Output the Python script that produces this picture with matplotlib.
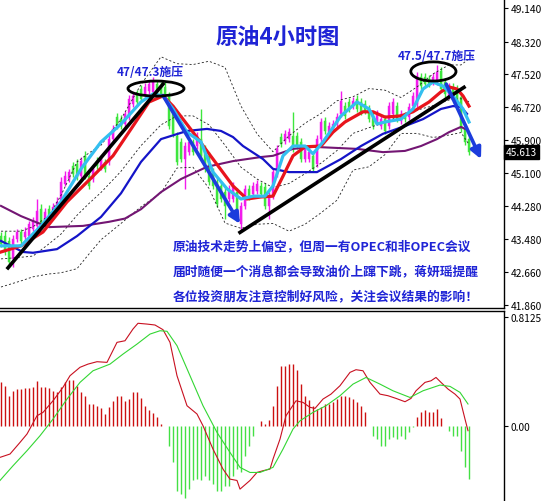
import matplotlib
matplotlib.use("Agg")
import matplotlib.pyplot as plt
from matplotlib.patches import Ellipse, Rectangle
import numpy as np

plt.rcParams['font.family'] = ['Noto Sans CJK SC', 'DejaVu Sans']

# ---------------- candle data (4H crude oil) ----------------
open_ = [43.55,43.55,43.43,42.99,43.48,43.65,43.53,43.55,43.72,43.80,
         44.21,43.90,44.21,44.04,44.17,44.39,44.83,44.95,45.27,45.32,
         45.02,45.52,45.02,44.95,45.39,45.25,45.37,45.37,45.93,46.47,
         46.42,46.30,46.47,46.79,47.04,47.16,47.04,47.11,47.09,47.28,
         47.23,47.21,46.99,46.67,46.01,45.86,45.44,45.61,45.86,45.76,
         45.93,45.69,45.52,45.12,44.88,44.78,44.63,44.46,44.46,44.63,
         43.85,44.29,44.71,44.58,44.66,44.78,44.75,44.29,44.53,45.07,
         45.98,45.88,45.93,46.01,46.01,45.86,45.44,45.44,45.52,45.32,
         45.93,46.37,46.10,46.18,46.30,46.55,46.74,46.84,46.74,46.91,
         46.84,46.79,46.67,46.50,46.35,46.25,46.42,46.25,46.55,46.74,
         46.37,46.50,46.47,46.74,46.79,47.45,47.45,47.40,47.33,47.33,
         47.60,47.33,46.99,47.21,47.16,46.96,46.18,45.93]
high_ = [43.65,43.67,43.53,43.58,43.72,43.72,43.77,43.92,44.02,44.46,
         44.34,44.24,44.31,44.36,44.51,45.00,45.15,45.20,45.37,45.44,
         45.49,45.64,45.15,45.29,45.49,45.54,45.44,46.03,46.28,46.57,
         46.52,46.62,47.01,47.09,47.13,47.26,47.31,47.38,47.45,47.38,
         47.33,47.33,47.09,46.77,46.10,45.96,45.86,45.96,45.93,46.10,
         46.67,45.79,45.61,45.22,44.98,44.88,44.73,44.80,44.88,44.73,
         44.39,44.80,44.80,44.88,44.93,44.88,44.85,44.63,45.22,45.79,
         46.08,46.15,46.20,46.60,46.10,45.96,45.79,45.71,45.61,46.03,
         46.45,46.47,46.35,46.40,46.57,47.11,46.84,46.94,46.96,47.01,
         46.94,46.89,46.77,46.60,46.64,46.52,46.52,46.84,46.94,46.84,
         46.64,46.60,46.82,47.09,47.58,47.55,47.55,47.50,47.55,47.75,
         47.70,47.43,47.31,47.31,47.26,47.06,46.28,46.03]
low_ = [43.28,43.09,42.84,42.79,43.40,43.33,43.45,43.48,43.67,43.75,
        43.72,43.82,43.94,43.97,44.12,44.34,44.78,44.88,45.00,44.93,
        44.95,44.95,44.71,44.88,45.20,45.17,45.12,45.29,45.86,46.18,
        46.18,46.23,46.40,46.72,46.77,46.84,46.96,47.04,47.01,47.01,
        46.96,46.89,46.18,45.98,45.29,45.37,44.71,45.54,45.54,45.69,
        45.44,45.12,44.80,44.71,44.26,44.39,43.97,44.39,44.39,44.14,
        43.67,44.21,44.44,44.51,44.58,44.51,44.21,43.97,44.46,45.00,
        45.74,45.81,45.86,45.61,45.69,45.37,45.37,45.37,45.12,45.25,
        45.86,46.06,46.03,46.10,46.23,46.47,46.42,46.60,46.67,46.60,
        46.52,46.55,46.35,46.18,46.28,46.18,46.06,46.18,46.47,46.35,
        46.30,46.35,46.40,46.67,46.72,47.16,47.21,47.21,47.26,47.26,
        47.09,46.96,46.91,46.91,46.72,46.10,45.79,45.54]
close_ = [43.36,43.16,42.91,43.48,43.65,43.43,43.65,43.85,43.92,44.17,
          43.80,44.14,44.02,44.26,44.39,44.88,45.02,45.12,45.07,45.00,
          45.39,45.02,44.78,45.20,45.27,45.44,45.20,45.93,46.18,46.25,
          46.25,46.55,46.91,46.99,46.84,46.91,47.21,47.28,47.33,47.09,
          47.04,46.96,46.25,46.06,45.37,45.44,45.76,45.86,45.61,46.01,
          45.52,45.20,44.88,44.78,44.34,44.46,44.29,44.71,44.78,44.21,
          44.29,44.71,44.51,44.78,44.83,44.58,44.29,44.53,45.12,45.69,
          45.81,46.06,46.10,45.76,45.76,45.44,45.69,45.61,45.20,45.93,
          46.35,46.13,46.25,46.30,46.47,46.87,46.50,46.67,46.87,46.67,
          46.60,46.62,46.42,46.25,46.55,46.42,46.13,46.74,46.84,46.42,
          46.55,46.42,46.72,46.99,47.48,47.23,47.28,47.28,47.45,47.58,
          47.16,47.04,47.21,46.99,46.79,46.18,45.86,45.61]

# ---------------- moving averages ----------------
ma_fast_idx = [0,5,10,15,20,25,30,35,38,40.5,43,46.5,50,53,56.5,60,63,66,68,70.5,73,76,78,
               80.5,85,89,92,94,96,100,103,105.5,108,110.5,113,115.5,117]
ma_fast_val = [43.31,43.31,43.80,44.39,45.20,45.86,46.30,46.84,47.04,46.99,46.67,46.10,45.86,
               45.12,44.71,44.46,44.53,44.53,44.78,45.52,45.76,45.76,45.57,45.86,46.50,46.84,
               46.67,46.30,46.35,46.42,46.67,47.16,47.33,47.23,46.99,46.67,46.35]
ma_mid_idx = [0,5,10.5,16.5,23,28,33,37,40.5,43,48,53,58,61.5,65,68,70.5,73,76,80,83,86,90.5,
              93,96,100,103,107,110,112,114,115.5,117]
ma_mid_val = [43.16,43.31,43.65,44.39,45.02,45.52,46.25,46.84,46.99,46.74,46.10,45.44,44.78,
              44.46,44.51,44.53,45.02,45.52,45.74,45.76,46.10,46.35,46.60,46.60,46.47,46.50,
              46.60,46.84,47.09,47.21,47.16,46.99,46.74]
ma_slow_idx = [0,5.5,8,14,19,25,30,35,40,46.5,51.5,55,58,60.5,65.5,68,72,79,85,90,95.5,101,
               105.5,110,113,115,116.5]
ma_slow_val = [43.43,43.16,43.14,43.23,43.55,44.02,44.60,45.37,45.93,46.13,46.18,46.13,45.98,
               45.76,45.44,45.20,45.12,45.12,45.44,45.76,46.06,46.25,46.42,46.67,46.74,46.72,46.55]
ma_long_idx = [0,5,8,12,20.5,27,31,35,40,45,51.5,58,65,68,73,78,89,95.5,101,105,109,112,115,116]
ma_long_val = [44.29,44.04,43.92,43.77,43.80,43.90,43.98,44.21,44.63,44.95,45.25,45.39,45.49,
               45.52,45.69,45.74,45.69,45.61,45.64,45.76,45.93,46.10,46.23,46.18]

# Bollinger bands (20, 2) read at sample candles
bb_idx = [0,5,8,12,15,19,22,25,30,35,40,44,48,52,56,60,64,68,72,76,80,84,88,92,96,100,
          104,108,112,115,117]
bb_up_val = [43.67,43.67,43.78,44.05,44.55,45.37,45.59,45.78,46.42,47.27,47.95,47.78,47.76,
             47.84,47.69,46.74,46.06,45.62,46.01,46.32,46.56,46.87,46.97,47.17,47.13,46.95,
             47.21,47.53,47.75,47.75,47.90]
bb_mid_val = [42.99,43.03,43.06,43.36,43.60,44.06,44.35,44.62,45.14,45.77,46.28,46.50,46.50,
              46.28,45.78,45.24,44.95,44.74,44.84,45.08,45.34,45.65,46.07,46.21,46.34,46.51,
              46.64,46.75,46.89,46.92,46.85]
bb_lo_val = [42.30,42.45,42.55,42.62,42.65,42.75,43.11,43.46,43.86,44.27,44.61,45.22,45.24,
             44.72,43.87,43.74,43.84,43.86,43.67,43.84,44.12,44.43,45.17,45.25,45.55,46.07,
             46.07,45.97,46.03,46.09,45.80]

# ---------------- MACD ----------------
macd_hist = [0.325,0.30,0.225,0.26,0.275,0.275,0.28,0.285,0.29,0.337,
             0.29,0.29,0.28,0.26,0.25,0.29,0.33,0.345,0.34,0.30,
             0.25,0.225,0.163,0.163,0.145,0.13,0.088,0.14,0.188,0.225,
             0.225,0.188,0.20,0.25,0.25,0.21,0.15,0.12,0.095,0.065,
             0.015,-0.005,-0.15,-0.275,-0.49,-0.51,-0.54,-0.475,-0.41,-0.40,
             -0.41,-0.375,-0.41,-0.44,-0.49,-0.49,-0.45,-0.45,-0.375,-0.325,
             -0.35,-0.225,-0.15,-0.075,0.0,0.035,0.01,0.045,0.15,0.30,
             0.45,0.45,0.46,0.46,0.42,0.31,0.225,0.19,0.15,0.125,
             0.138,0.163,0.163,0.175,0.20,0.22,0.225,0.213,0.20,0.175,
             0.145,0.10,0.0,-0.075,-0.10,-0.15,-0.15,-0.10,-0.088,-0.10,
             -0.075,-0.10,-0.05,-0.01,0.063,0.10,0.115,0.105,0.10,0.125,
             0.06,-0.005,-0.04,-0.075,-0.075,-0.19,-0.31,-0.40]
macd_idx = [-0.25,2.25,4.75,6.5,9,10.5,13,15.5,17.25,19.75,21.75,24,26.5,29,31,33,34.25,
            36.5,38.5,40.5,42.25,44,46.5,49,50.5,53,55.5,57.25,59,59.75,62.25,64,65.5,
            67.25,68,69.75,71.25,73.75,75.5,77.25,78.5,80.5,82.5,84.75,87.25,88.75,90.5,
            92.25,94.75,96.75,98.75,101,102.5,103.75,106,107.5,108.75,110,111.75,113.5,
            114.75,116,116.75]
macd_line = [-0.237,-0.212,-0.125,-0.062,0.075,0.10,0.187,0.288,0.375,0.438,0.462,0.48,
             0.475,0.625,0.637,0.725,0.768,0.762,0.755,0.72,0.625,0.375,0.15,0.088,0.0,
             -0.175,-0.325,-0.40,-0.41,-0.475,-0.41,-0.35,-0.337,-0.325,-0.25,-0.10,
             0.075,0.187,0.175,0.138,0.13,0.20,0.237,0.30,0.40,0.42,0.412,0.325,0.237,
             0.225,0.205,0.18,0.205,0.262,0.325,0.337,0.362,0.325,0.275,0.237,0.20,0.05,-0.037]
sig_idx = [-0.25,3,6.5,9.75,13,16.5,19.75,23,27.25,30.5,34,37.25,39.75,41.5,44,47.25,50.5,
           54,57.25,59.75,62.25,64.75,68,70.5,73,74.75,78,81.25,84.75,88,91.25,94.75,98,
           102.25,105.5,109.75,112.25,114.75,116.75]
signal_line = [-0.41,-0.30,-0.187,-0.075,0.05,0.20,0.325,0.412,0.462,0.537,0.612,0.687,
               0.712,0.708,0.60,0.375,0.15,-0.05,-0.20,-0.312,-0.35,-0.35,-0.312,-0.175,
               -0.025,0.037,0.10,0.15,0.225,0.312,0.362,0.312,0.262,0.212,0.262,0.305,
               0.295,0.25,0.163]

price_ticks = [49.140, 48.320, 47.520, 46.720, 45.900, 45.100, 44.280, 43.480, 42.660, 41.860]
last_price = 45.613

title = "原油4小时图"
note1 = "47/47.3施压"
note2 = "47.5/47.7施压"
body_lines = ["原油技术走势上偏空，但周一有OPEC和非OPEC会议",
              "届时随便一个消息都会导致油价上蹿下跳，蒋妍瑶提醒",
              "各位投资朋友注意控制好风险，关注会议结果的影响！"]

# ---------------- figure ----------------
W, H = 546, 502
fig = plt.figure(figsize=(W/100, H/100), dpi=100)
fig.patch.set_facecolor('white')

def ax_rect(x0, y0, x1, y1):
    return [x0/W, 1 - y1/H, (x1-x0)/W, (y1-y0)/H]

ax = fig.add_axes(ax_rect(0, 0, 504, 309))
ax2 = fig.add_axes(ax_rect(0, 312, 504, 502))

XL = (-0.25, 125.75)

n = len(close_)
idx = np.arange(n)
up_col = '#f21cec'
dn_col = '#3ee63e'
for i in range(n):
    o, h, l, c = open_[i], high_[i], low_[i], close_[i]
    col = up_col if c >= o else dn_col
    ax.vlines(i, l, h, color=col, lw=1.0, zorder=2)
    ax.add_patch(Rectangle((i - 0.36, min(o, c)), 0.72, max(abs(c - o), 0.02),
                           facecolor=col, edgecolor=col, lw=0.3, zorder=2))

dash = dict(color='#222222', lw=0.6, ls=(0, (2.5, 2.5)), zorder=3)
ax.plot(bb_idx, bb_up_val, **dash)
ax.plot(bb_idx, bb_mid_val, **dash)
ax.plot(bb_idx, bb_lo_val, **dash)

ax.plot(ma_long_idx, ma_long_val, color='#731673', lw=1.5, zorder=4)
ax.plot(ma_slow_idx, ma_slow_val, color='#1414c8', lw=1.6, zorder=4)
ax.plot(ma_mid_idx, ma_mid_val, color='#e8141c', lw=2.3, zorder=5)
ax.plot(ma_fast_idx, ma_fast_val, color='#33bff0', lw=2.3, zorder=6)

# trend lines (black)
ax.plot([1.75, 40.5], [low_[3] - 0.02, high_[40] - 0.05], color='black', lw=2.6, zorder=7)
ax.plot([59.75, 115.75], [low_[60] - 0.03, 47.20], color='black', lw=2.6, zorder=7)

# blue arrows
arrow_col = '#1c3cdc'
aprops = dict(arrowstyle='-|>,head_width=0.32,head_length=0.65', color=arrow_col, lw=2.6,
              shrinkA=0, shrinkB=0)
ax.annotate('', xy=(59.75, 43.85), xytext=(40.5, 47.0), arrowprops=aprops, zorder=8)
ax.annotate('', xy=(120, 45.44), xytext=(111.3, 47.28), arrowprops=aprops, zorder=8)

# ellipses
ax.add_patch(Ellipse((38.75, 47.17), 14, 0.37, fill=False, ec='black', lw=2, zorder=9))
ax.add_patch(Ellipse((108.1, 47.59), 11.3, 0.47, fill=False, ec='black', lw=2, zorder=9))

txt_col = '#1f24d6'
ax.text(37.2, 47.59, note1, color=txt_col, fontsize=8.5, fontweight='bold',
        ha='center', va='center', zorder=10)
ax.text(108.9, 47.97, note2, color=txt_col, fontsize=8.5, fontweight='bold',
        ha='center', va='center', zorder=10)
ax.text(69.2, 48.46, title, color=txt_col, fontsize=16, fontweight='bold',
        ha='center', va='center', zorder=10)

for k, s in enumerate(body_lines):
    ax.text(43.0, [43.30, 42.69, 42.08][k], s, color=txt_col, fontsize=9.2,
            fontweight='bold', ha='left', va='center', zorder=10,
            bbox=dict(facecolor='white', edgecolor='none', pad=1.5))

ax.set_xlim(*XL)
ax.set_ylim(41.785, 49.368)
ax.yaxis.tick_right()
ax.set_yticks(price_ticks)
ax.set_yticklabels([f"{t:.3f}" for t in price_ticks])
ax.tick_params(axis='y', direction='out', length=3, width=0.8, labelsize=7.3, pad=2,
               colors='black')
ax.set_xticks([])
for s in ['left', 'top']:
    ax.spines[s].set_visible(False)
ax.spines['right'].set_linewidth(1.0)
ax.spines['bottom'].set_linewidth(1.0)

ax.text(1.004, (last_price - 41.785) / (49.368 - 41.785), f"{last_price:.3f}",
        transform=ax.transAxes, color='white', fontsize=7.3, ha='left', va='center',
        bbox=dict(facecolor='black', edgecolor='black', pad=1.2), zorder=11, clip_on=False)

# MACD panel
ax2.vlines(idx, 0, macd_hist, colors=['#cc1010' if v >= 0 else '#44e044' for v in macd_hist],
           lw=1.0)
ax2.plot(macd_idx, macd_line, color='#c81020', lw=0.8)
ax2.plot(sig_idx, signal_line, color='#33d633', lw=0.8)
ax2.set_xlim(*XL)
ax2.set_ylim(-0.564, 0.86)
ax2.yaxis.tick_right()
ax2.set_yticks([0.8125, 0.0])
ax2.set_yticklabels(["0.8125", "0.00"])
ax2.tick_params(axis='y', direction='out', length=3, width=0.8, labelsize=7.3, pad=2)
ax2.set_xticks([])
for s in ['left', 'bottom']:
    ax2.spines[s].set_visible(False)
ax2.spines['right'].set_linewidth(1.0)
ax2.spines['top'].set_linewidth(1.0)

fig.savefig('out.png', dpi=100)
